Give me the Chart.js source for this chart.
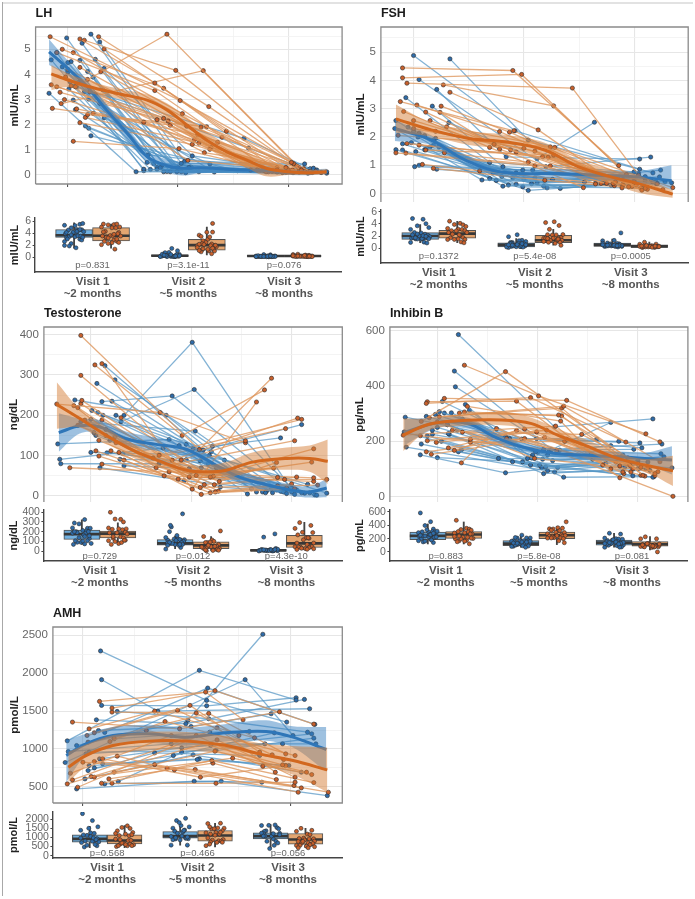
<!DOCTYPE html>
<html>
<head>
<meta charset="utf-8">
<title>Hormones by visit</title>
<script src="https://cdn.jsdelivr.net/npm/chart.js@4"></script>
<style>
  html, body { margin: 0; background: #fff; }
  body { position: relative; width: 695px; height: 899px; overflow: hidden; }
  canvas { position: absolute; }
  .edge { position: absolute; }
</style>
</head>
<body>
<div class="edge" style="left:2px;top:2px;width:691px;height:2px;background:#e2e2e2"></div>
<div class="edge" style="left:2px;top:2px;width:1px;height:894px;background:#a8a8a8"></div>
<script>
// each row: visit1 x, visit1 y, visit2 x, visit2 y, visit3 x, visit3 y
const lhBlue = [
  [.83,3.25,1.62,.13,2.86,.15],[.85,4.58,1.69,.23,2.9,.12],[.9,4.87,1.69,.17,2.95,.1],
  [.99,5.45,1.84,.29,2.88,.2],[1.21,5.6,2.03,.46,3.06,.4],[1.29,5.29,2.06,.54,3.15,.44],
  [1.13,5.24,1.99,.13,3.0,.16],[1.0,4.47,1.73,.8,3.02,.18],[1.03,4.51,1.81,.23,2.98,.1],
  [1.11,4.56,1.87,.13,3.1,.12],[1.18,4.12,1.93,.13,3.12,.2],[1.33,4.24,2.13,.76,3.2,.1],
  [1.23,3.89,2.03,.13,3.18,.07],[1.02,3.71,1.81,.3,2.92,.14],[1.01,3.42,1.75,.22,3.04,.1],
  [1.05,2.98,1.9,.14,3.08,.15],[1.19,3.02,2.07,.09,3.26,.2],[1.32,3.38,2.19,.13,3.23,.27],
  [1.29,2.85,2.33,.12,3.35,.13],[1.33,2.27,2.29,.44,3.35,.07],[1.16,1.95,2.1,.3,3.22,.12],
  [1.06,3.54,2.6,1.46,3.2,.25],[1.08,3.5,2.64,1.07,3.18,.2],[1.19,1.86,2.12,.3,3.14,.15],
  [1.21,1.56,2.54,.17,3.3,.1],[1.0,4.1,1.78,.45,2.96,.15],[.95,4.3,1.72,.5,3.0,.12],
  [1.1,3.7,1.95,.2,3.05,.1],[1.25,4.6,2.0,.3,3.1,.14],[1.15,3.3,2.0,.25,3.16,.2],
  [1.07,2.6,1.85,.35,3.02,.12]
];
const lhOrange = [
  [.84,5.5,2.02,2.96,3.03,.5],[1.11,5.41,1.79,3.66,2.98,.3],[1.15,5.36,1.98,4.16,3.05,.45],
  [1.28,5.5,2.28,2.72,3.12,.2],[1.33,5.01,2.44,1.74,3.2,.15],[.95,5.0,1.87,3.45,2.9,.2],
  [.9,4.87,1.79,3.36,2.85,.15],[1.05,4.87,2.04,2.44,3.0,.2],[1.11,4.28,2.08,1.94,2.8,.13],
  [1.3,4.11,2.21,1.91,3.15,.14],[.85,3.59,1.81,2.2,2.72,.2],[.9,3.51,1.87,2.25,2.66,.2],
  [1.07,3.51,1.9,5.6,3.08,.35],[.94,2.84,2.23,4.15,3.1,.3],[.93,3.29,1.91,2.15,2.75,.2],
  [.86,2.65,1.93,1.98,2.82,.13],[1.08,2.63,1.69,2.1,2.78,.18],[1.18,2.4,2.26,1.92,3.18,.12],
  [1.23,2.45,2.18,1.6,3.22,.1],[1.16,2.29,2.19,1.27,3.0,.13],[1.11,2.08,2.13,1.22,2.95,.1],
  [1.05,1.34,2.01,1.05,2.88,.15],[.98,3.9,2.29,1.02,3.1,.12],[1.2,3.3,2.24,.89,3.25,.15],
  [1.03,3.55,2.09,.58,3.3,.1],[1.0,4.2,2.36,1.3,3.04,.2],[1.18,3.8,2.3,1.1,3.1,.18],
  [1.25,3.2,2.4,1.5,3.14,.25],[.97,3.0,2.15,1.4,2.9,.3]
];
const fshBlue = [
  [1.0,4.88,1.92,2.22,3.05,.86],[1.33,4.76,2.04,1.89,3.17,.73],[1.21,3.68,1.84,1.3,3.05,1.22],
  [1.05,4.03,2.2,.95,3.15,1.29],[.93,3.39,1.69,1.1,3.0,.77],[1.17,3.09,1.81,.95,3.04,.71],
  [1.32,2.51,2.12,1.23,2.64,2.52],[.83,2.3,1.62,.48,2.55,.41],[.84,2.58,1.69,.53,2.65,.38],
  [1.05,2.13,1.75,.46,2.73,.38],[1.04,2.0,1.81,.26,2.79,.3],[1.18,1.89,1.86,.3,2.89,.3],
  [1.23,1.65,1.93,.33,2.98,.3],[.84,1.55,1.99,.24,3.08,.2],[.9,1.54,2.04,.11,3.17,.41],
  [.9,1.76,2.07,.35,3.23,.59],[.98,1.8,2.12,.38,3.24,.83],[1.02,1.48,2.18,.26,3.34,.38],
  [1.15,1.65,2.21,.2,3.2,.35],[1.28,1.51,2.33,.18,3.1,.45],[1.01,.95,1.99,.83,2.95,.4],
  [1.05,1.0,2.08,.83,3.0,.5],[1.21,.86,1.72,.73,3.1,.6],[1.18,1.71,1.93,.73,2.85,.55],
  [1.12,1.6,2.26,.5,3.28,.42],[1.0,2.2,1.8,.6,2.9,.5],[1.1,2.05,1.9,.55,3.0,.45],
  [.95,2.35,1.75,.75,3.1,.55],[1.2,1.95,2.0,.5,3.15,.5],[1.1,1.55,2.1,.55,3.2,.4]
];
const fshOrange = [
  [.9,4.44,1.9,4.35,2.86,.99],[.9,4.09,1.98,4.21,2.93,.67],[.94,3.9,2.44,3.73,3.04,.65],
  [1.27,3.84,2.27,3.1,3.0,.41],[1.33,3.58,2.13,2.25,2.89,.2],[.88,3.25,1.91,2.22,2.83,.41],
  [1.03,3.13,1.78,2.19,2.95,.24],[1.25,3.09,1.87,2.17,3.07,.12],[1.11,2.88,1.73,1.74,2.81,.35],
  [.91,2.9,1.69,1.63,2.54,.21],[1.24,2.87,1.78,1.57,2.65,.34],[1.0,2.58,1.88,1.54,3.1,.18],
  [1.15,2.58,1.93,1.47,3.21,.35],[.86,2.06,2.24,1.65,3.26,.14],[1.3,2.36,2.28,1.63,3.35,.21],
  [.94,1.77,2.17,1.3,2.9,.3],[1.05,1.71,2.22,1.28,3.02,.3],[1.11,1.54,2.27,1.36,3.06,.2],
  [1.28,1.44,2.04,1.11,2.75,.36],[.84,1.44,2.1,.98,2.82,.28],[.93,1.43,2.24,.98,2.98,.25],
  [1.08,1.03,1.6,.8,2.7,.36],[1.18,.89,2.19,.47,3.12,.15],[1.0,2.3,2.0,1.6,2.9,.45],
  [1.2,2.2,2.1,1.5,3.0,.35]
];
const testoBlue = [
  [1.24,288,2.21,123,2.89,144],[1.14,323,2.12,114,3.1,177],[1.06,279,2.08,115,2.74,8],
  [1.11,234,1.81,248,2.95,18],[1.21,235,2.02,118,2.81,8],[.84,238,1.75,200,2.71,10],
  [1.01,212,1.95,128,2.65,10],[1.07,207,1.88,125,2.6,18],[1.33,200,2.01,381,3.03,4],
  [.67,129,1.78,140,2.56,5],[.69,91,1.72,119,2.95,6],[.7,80,1.68,80,2.75,12],
  [1.09,70,1.93,38,3.1,8],[1.33,75,1.98,68,3.13,7],[1.29,91,2.09,87,3.18,8],
  [1.0,108,2.18,101,3.16,29],[1.16,107,2.17,80,3.25,2],[1.32,105,2.28,60,3.23,3],
  [1.03,157,2.29,22,2.92,10],[1.19,138,2.33,89,3.35,7],[1.3,184,2.03,264,3.0,20],
  [.9,184,2.04,161,2.89,12],[1.12,200,2.25,70,3.05,15],[1.0,190,1.95,90,2.9,12],
  [1.15,165,2.1,70,3.0,10],[1.25,200,2.2,110,2.85,15],[1.05,150,2.0,60,2.8,18]
];
const testoOrange = [
  [.9,398,2.08,115,2.8,292],[1.04,325,1.91,150,2.73,263],[1.11,328,2.01,17,2.65,233],
  [.9,299,1.9,89,2.54,137],[.66,228,1.69,207,2.54,132],[.91,237,1.81,89,3.06,193],
  [.9,229,1.68,101,3.1,190],[.87,219,1.62,94,2.94,167],[.83,224,1.65,70,3.03,137],
  [1.3,194,2.19,47,3.22,117],[.94,188,2.22,49,3.2,84],[.87,175,2.28,36,2.85,83],
  [1.11,188,2.05,51,2.82,69],[1.24,147,1.98,47,2.86,46],[1.25,132,2.23,28,2.93,41],
  [1.08,138,2.13,28,3.05,47],[.79,70,1.78,60,3.22,45],[1.11,79,1.73,50,3.22,36],
  [1.05,112,1.87,42,3.35,41],[1.08,99,2.09,21,3.26,27],[1.28,108,2.1,4,2.86,25],
  [1.33,89,2.19,8,3.03,18],[1.2,112,2.24,10,2.95,20],[1.15,150,2.27,12,3.0,30]
];
const inhBlue = [
  [1.21,586,2.17,252,3.15,281],[1.17,454,2.14,170,2.73,268],[1.18,397,1.99,210,2.59,208],
  [1.05,344,1.84,208,2.81,200],[.68,287,1.72,210,3.02,194],[.89,290,1.68,217,3.04,176],
  [.98,297,2.06,170,3.24,190],[1.02,307,2.12,168,2.96,171],[1.07,302,2.22,168,3.23,155],
  [1.14,303,1.98,162,2.73,184],[1.28,333,1.9,138,3.34,104],[1.32,312,1.94,140,2.53,152],
  [.67,234,1.61,138,2.55,135],[.84,190,1.75,126,2.87,107],[.83,151,1.68,86,2.68,120],
  [1.0,141,1.85,126,2.95,75],[1.04,200,1.93,114,3.15,70],[1.11,228,2.02,114,3.08,101],
  [1.12,225,2.06,83,3.0,101],[1.21,162,2.04,105,2.8,140],[1.24,169,2.08,107,3.26,144],
  [.69,179,2.1,93,3.0,118],[.9,220,2.17,89,3.12,95],[.95,240,2.2,105,2.9,130],
  [1.1,260,2.26,70,3.16,72],[1.0,250,1.95,150,2.9,140],[1.1,260,2.05,135,3.0,130],
  [1.2,240,2.1,150,3.1,125],[1.25,280,2.15,130,2.85,150],[.95,225,2.0,160,2.95,120]
];
const inhOrange = [
  [1.27,475,2.01,364,3.08,227],[1.07,355,2.29,348,3.22,198],[.89,337,1.93,358,2.88,197],
  [.9,343,1.79,345,2.82,68],[.84,272,1.68,452,3.03,106],[.92,285,2.26,327,3.22,126],
  [1.02,289,2.24,320,3.05,77],[1.22,302,2.21,295,3.17,83],[1.27,306,2.24,292,3.07,74],
  [1.3,326,2.23,273,2.65,114],[.66,222,2.18,255,2.73,100],[.9,202,2.09,240,2.82,111],
  [.99,196,1.99,234,2.85,89],[1.11,176,1.87,244,2.93,89],[1.17,167,1.79,239,2.92,113],
  [1.24,122,1.59,246,3.35,1],[.94,153,2.07,214,2.86,83],[.89,162,1.87,210,3.03,77],
  [1.33,207,2.29,208,3.17,76],[1.33,196,2.27,200,2.95,100],[1.25,233,2.44,225,3.0,120],
  [.83,220,2.19,167,3.1,105],[1.0,270,1.97,138,3.2,90],[1.15,240,1.69,210,2.78,125]
];
const amhBlue = [
  [1.17,2293,2.19,1641,2.96,1355],[1.18,1914,1.72,1500,3.18,1531],[.85,1108,2.12,2037,3.05,1645],
  [.83,822,2.56,1914,3.02,1178],[1.18,1575,2.19,1570,3.05,1676],[1.13,1385,1.99,1333,3.13,1654],
  [1.15,1244,2.04,1297,2.81,1465],[1.21,1218,2.2,1804,3.23,1324],[.94,474,2.07,575,2.72,562],
  [1.21,540,2.33,575,3.35,385],[1.33,1495,2.21,1399,3.16,1222],[1.11,751,1.87,914,2.84,1214],
  [1.05,716,1.69,949,2.7,914],[1.06,782,2.1,861,2.95,782],[1.19,804,2.12,870,2.98,782],
  [1.02,606,2.06,923,3.1,694],[1.3,1134,2.22,1222,2.6,1231],[.94,1046,2.01,1377,2.73,2513],
  [1.03,936,2.23,1046,2.92,1068],[1.34,570,1.95,958,2.75,1068],[1.06,958,2.28,980,3.22,1143],
  [.86,967,1.85,1068,3.24,1068],[1.16,870,1.95,1015,3.2,1200]
];
const amhOrange = [
  [.9,1355,1.93,1266,2.89,1491],[1.16,1628,2.18,1751,2.54,1385],[1.28,1540,2.27,1769,3.22,1328],
  [1.28,1487,2.09,1474,2.5,1178],[1.06,1266,1.69,1500,2.65,1148],[1.11,1214,2.03,1575,2.7,958],
  [1.04,1178,1.91,1509,2.82,923],[1.05,1090,2.21,1469,2.95,936],[1.26,1099,1.79,1363,3.04,914],
  [1.3,1143,1.61,1244,2.93,861],[.88,680,1.85,1178,2.92,791],[.9,592,2.09,1178,2.73,773],
  [.95,496,2.29,1280,2.85,694],[.85,540,2.29,1121,3.04,628],[1.11,628,2.27,971,3.15,694],
  [1.08,637,2.44,879,3.2,663],[1.18,548,2.24,848,3.22,557],[1.25,606,2.25,813,2.86,597],
  [1.28,548,2.28,548,3.04,562],[1.3,694,1.69,795,3.03,518],[1.33,905,1.81,747,3.1,487],
  [1.0,826,1.88,725,3.07,430],[1.11,835,2.08,729,3.36,430],[1.19,870,2.13,628,2.95,780]
];

// loess fits, x then fit / lower / upper
const lhBlueFitX = [.83,1,1.17,1.35,1.54,1.72,1.9,2.05,2.2,2.5,2.8,3.1,3.35];
const lhBlueFit = [4.9,4.24,3.54,2.59,1.66,.73,.37,.27,.29,.22,.17,.09,.13];
const lhBlueLo = [4.38,3.95,3.3,2.35,1.4,.5,.12,-.02,.08,.1,.05,-.01,.03];
const lhBlueHi = [5.4,4.55,3.78,2.83,1.9,.97,.62,.52,.48,.36,.28,.2,.25];
const lhOrangeFitX = [.85,1,1.17,1.44,1.72,1.9,2.08,2.26,2.44,2.62,2.8,3,3.17,3.35];
const lhOrangeFit = [4.02,3.78,3.54,3.25,2.98,2.59,1.99,1.39,.93,.6,.27,.13,.09,.13];
const lhOrangeLo = [3.38,3.5,3.28,3.05,2.7,2.3,1.7,1.1,.62,.3,-.05,0,0,.03];
const lhOrangeHi = [4.38,4.05,3.78,3.45,3.2,2.85,2.3,1.72,1.25,.92,.55,.3,.2,.23];

const fshBlueFitX = [.83,1.16,1.44,1.71,1.95,2.31,2.67,3.04,3.34];
const fshBlueFit = [2.3,1.89,1.24,.83,.71,.71,.65,.59,.45];
const fshBlueLo = [1.86,1.72,1.08,.68,.56,.56,.5,.38,.14];
const fshBlueHi = [2.6,2.06,1.4,.98,.86,.86,.8,.8,1.0];
const fshOrangeFitX = [.84,1.16,1.5,1.83,2.19,2.49,2.79,3.04,3.35];
const fshOrangeFit = [2.64,2.25,1.95,1.83,1.54,.95,.59,.35,-.02];
const fshOrangeLo = [2.15,2.02,1.72,1.58,1.28,.72,.35,.03,-.15];
const fshOrangeHi = [3.15,2.5,2.2,2.08,1.8,1.2,.85,.65,.12];

const testoBlueFitX = [.68,.89,1.09,1.35,1.65,1.95,2.22,2.48,2.75,3.01,3.18,3.35];
const testoBlueFit = [157,174,171,142,128,116,80,47,28,14,10,20];
const testoBlueLo = [110,155,155,125,112,100,65,32,14,0,-4,-3];
const testoBlueHi = [205,192,188,160,145,132,95,62,42,28,24,42];
const testoOrangeFitX = [.66,.89,1.15,1.42,1.68,1.95,2.15,2.35,2.61,2.95,3.18,3.36];
const testoOrangeFit = [227,192,151,113,87,64,60,64,84,93,93,86];
const testoOrangeLo = [167,170,132,95,70,48,44,45,60,65,60,30];
const testoOrangeHi = [282,215,170,130,105,80,76,84,108,120,125,140];

const inhBlueFitX = [.67,1,1.31,1.57,1.84,2.14,2.47,2.8,3.07,3.34];
const inhBlueFit = [232,267,264,216,180,158,150,144,138,132];
const inhBlueLo = [185,248,245,200,165,143,134,128,118,80];
const inhBlueHi = [280,285,285,232,195,173,165,160,158,182];
const inhOrangeFitX = [.66,.91,1.21,1.64,1.94,2.2,2.47,2.8,3.07,3.35];
const inhOrangeFit = [222,261,274,277,264,222,186,138,114,93];
const inhOrangeLo = [165,238,255,258,240,200,165,118,92,38];
const inhOrangeHi = [282,282,295,305,285,245,208,158,136,148];

const amhBlueFitX = [.84,1.03,1.29,1.64,1.99,2.38,2.76,3.02,3.34];
const amhBlueFit = [914,1068,1178,1200,1156,1214,1231,1156,993];
const amhBlueLo = [560,910,1050,1080,1040,1100,1110,1020,700];
const amhBlueHi = [1110,1200,1290,1320,1280,1330,1380,1300,1290];
const amhOrangeFitX = [.86,1.03,1.29,1.64,1.99,2.38,2.7,3.02,3.35];
const amhOrangeFit = [760,914,1046,1104,1104,1046,936,848,725];
const amhOrangeLo = [560,770,920,985,985,925,800,660,430];
const amhOrangeHi = [960,1060,1180,1225,1225,1170,1075,1040,1020];

// box stats per visit: whisker low, q1, median, q3, whisker high
const lhBlueBox = [[1.5,3.3,3.65,4.6,5.7],[.1,.15,.25,.4,.8],[.1,.15,.2,.3,.5]];
const lhOrangeBox = [[1.5,2.7,3.55,4.9,5.5],[.4,1.15,2.0,2.95,5.0],[.1,.12,.2,.28,.5]];
const fshBlueBox = [[.9,1.45,2.0,2.55,3.9],[.1,.2,.55,.9,1.6],[.1,.3,.55,.85,1.5]];
const fshOrangeBox = [[.9,1.65,2.4,2.95,4.4],[.5,.9,1.3,2.1,3.1],[.1,.15,.3,.55,1.0]];
const testoBlueBox = [[70,120,175,215,320],[25,62,80,120,155],[2,3,9,18,30]];
const testoOrangeBox = [[65,137,180,205,290],[8,27,60,95,150],[15,38,80,163,295]];
const inhBlueBox = [[120,185,242,300,420],[70,95,125,170,250],[70,100,140,180,280]];
const inhOrangeBox = [[120,205,262,305,450],[110,200,250,300,380],[30,85,115,155,230]];
const amhBlueBox = [[430,735,915,1135,1600],[570,955,1065,1320,1620],[390,915,1065,1250,1700]];
const amhOrangeBox = [[430,640,825,1135,1640],[480,790,1100,1375,1770],[430,625,880,1210,1490]];

const lhP = ["p=0.831", "p=3.1e-11", "p=0.076"];
const fshP = ["p=0.1372", "p=5.4e-08", "p=0.0005"];
const testoP = ["p=0.729", "p=0.012", "p=4.3e-10"];
const inhP = ["p=0.883", "p=5.8e-08", "p=0.081"];
const amhP = ["p=0.568", "p=0.466", "p=0.056"];

const visitLabels = [["Visit 1", "~2 months"], ["Visit 2", "~5 months"], ["Visit 3", "~8 months"]];

// sideways spread of the dots in the small box panels
const spreadV1 = [-.08,.03,-.03,.06,.09,-.1,.01,.05,-.06,.08,-.01,.1,-.09,.03,-.05,.06,-.07,.01,.08,-.03,-.1,.04,.07,-.05,.02];
const spreadV2 = [.01,-.08,.06,-.04,.1,-.06,.03,-.01,.08,-.1,.05,-.05,.06,.0,-.08,.09,-.03,.04,-.1,.07,-.05,.02,.08,-.06,.05];
const spreadV3 = [-.05,.07,-.1,.02,.05,-.02,.09,-.07,.04,-.01,.1,-.08,.03,.06,-.04,.08,-.1,.05,-.06,.01,.1,-.08,.03,-.03,.06];
const spreads = [spreadV1, spreadV2, spreadV3];

const BLUE_LINE = "rgba(84,150,197,0.72)";
const ORANGE_LINE = "rgba(222,150,92,0.78)";
const BLUE_DOT = "#2f6ca9";
const ORANGE_DOT = "#c8602c";
const BLUE_BAND = "rgba(52,126,190,0.48)";
const ORANGE_BAND = "rgba(214,128,58,0.5)";
const BLUE_FIT = "#2f76b8";
const ORANGE_FIT = "#d2681f";
const FONT = "'Liberation Sans', Arial, sans-serif";

function subjectSets(rows, line, dot, order) {
  return rows.map(r => ({
    type: "line",
    data: [{ x: r[0], y: r[1] }, { x: r[2], y: r[3] }, { x: r[4], y: r[5] }],
    borderColor: line, borderWidth: 1.3, tension: 0, fill: false,
    pointRadius: 2.1, pointBackgroundColor: dot, pointBorderColor: "#2b2b2b", pointBorderWidth: 0.6,
    order
  }));
}

function fitSets(xs, fit, lo, hi, lineColor, band, order) {
  const pts = ys => ys.map((y, i) => ({ x: xs[i], y }));
  const curve = { type: "line", pointRadius: 0, tension: 0.35 };
  return [
    { ...curve, data: pts(hi), borderWidth: 0, backgroundColor: band, fill: "+1", order: order + 1 },
    { ...curve, data: pts(lo), borderWidth: 0, fill: false, order: order + 1 },
    { ...curve, data: pts(fit), borderColor: lineColor, borderWidth: 3, fill: false, order }
  ];
}

function boxSets(rows, stats, off, fillColor, dot, thick, order) {
  const at = i => i + 1 + off;
  return [
    { type: "bar", grouped: false, barThickness: 1.2, backgroundColor: "#444", order: order + 3,
      data: stats.map((s, i) => ({ x: at(i), y: [s[0], s[4]] })) },
    { type: "bar", grouped: false, barThickness: thick, backgroundColor: fillColor, borderColor: "#555",
      borderWidth: 1, borderSkipped: false, order: order + 2,
      data: stats.map((s, i) => ({ x: at(i), y: [s[1], s[3]] })) },
    { type: "scatter", pointStyle: "line", pointRadius: thick / 2, pointBorderColor: "#383838",
      pointBorderWidth: 2.6, order: order + 1,
      data: stats.map((s, i) => ({ x: at(i), y: s[2] })) },
    { type: "scatter", pointRadius: 2, pointBackgroundColor: dot, pointBorderColor: "#2b2b2b",
      pointBorderWidth: 0.6, order,
      data: [0, 1, 2].flatMap(v => rows.map((r, i) => ({ x: at(v) + spreads[v][i % 25], y: r[2 * v + 1] }))) }
  ];
}

function addCanvas(left, top, width, height) {
  const c = document.createElement("canvas");
  c.width = width; c.height = height;
  c.style.left = left + "px"; c.style.top = top + "px";
  c.style.width = width + "px"; c.style.height = height + "px";
  document.body.appendChild(c);
  return c;
}

function mainPanel(o) {
  const left = o.titleX - 6.6, topPad = 24, xh = 10;
  const width = Math.ceil(o.R + 3 - left), height = Math.ceil(o.B - o.T + topPad + xh);
  const frame = {
    id: "frame",
    afterDatasetsDraw(chart) {
      const a = chart.chartArea, ctx = chart.ctx;
      ctx.save();
      ctx.strokeStyle = "#8a8a8a"; ctx.lineWidth = 1.3;
      ctx.beginPath();
      ctx.moveTo(a.left, a.bottom); ctx.lineTo(a.left, a.top); ctx.lineTo(a.right, a.top); ctx.lineTo(a.right, a.bottom);
      if (o.closed) ctx.lineTo(a.left, a.bottom);
      ctx.stroke();
      ctx.fillStyle = "#1c1c1c"; ctx.font = "bold 12.5px " + FONT;
      ctx.textAlign = "left"; ctx.textBaseline = "middle";
      ctx.fillText(o.title, a.left, a.top - 13.5);
      ctx.restore();
    }
  };
  const isMajorX = v => Number.isInteger(v);
  return new Chart(addCanvas(left, o.T - topPad, width, height), {
    type: "scatter",
    data: { datasets: [
      ...subjectSets(o.blue, BLUE_LINE, BLUE_DOT, 8),
      ...subjectSets(o.orange, ORANGE_LINE, ORANGE_DOT, 7),
      ...fitSets(o.blueFit[0], o.blueFit[1], o.blueFit[2], o.blueFit[3], BLUE_FIT, BLUE_BAND, 3),
      ...fitSets(o.orangeFit[0], o.orangeFit[1], o.orangeFit[2], o.orangeFit[3], ORANGE_FIT, ORANGE_BAND, 1)
    ] },
    options: {
      responsive: false, animation: false, devicePixelRatio: 1,
      layout: { autoPadding: false, padding: { top: topPad, right: width - (o.R - left), left: 0, bottom: 0 } },
      plugins: { legend: { display: false }, tooltip: { enabled: false } },
      scales: {
        x: {
          type: "linear", min: o.xMin, max: o.xMax,
          afterBuildTicks: s => { s.ticks = [1, 1.5, 2, 2.5, 3].map(value => ({ value })); },
          afterFit: s => { s.height = xh; },
          ticks: { display: true, callback: () => "", autoSkip: false, padding: 0, maxRotation: 0 },
          border: { display: false },
          grid: {
            color: c => isMajorX(c.tick.value) ? "#e6e6e6" : "#f1f1f1",
            lineWidth: c => isMajorX(c.tick.value) ? 1.1 : 0.8,
            tickLength: 3, tickWidth: 1.1,
            tickColor: c => (o.closed && isMajorX(c.tick.value)) ? "#555" : "rgba(0,0,0,0)"
          }
        },
        y: {
          min: o.yMin, max: o.yMax,
          afterBuildTicks: s => {
            s.ticks = o.yTicks.concat(o.yMinor).sort((a, b) => a - b).map(value => ({ value }));
          },
          afterFit: s => { s.width = o.L - left; },
          title: { display: true, text: o.unit, color: "#222", padding: 0, font: { family: FONT, size: 11.5, weight: "bold" } },
          ticks: {
            autoSkip: false, padding: 3, color: "#666", font: { family: FONT, size: 11.5 },
            callback: v => o.yTicks.includes(v) ? String(v) : ""
          },
          border: { display: false },
          grid: {
            color: c => o.yTicks.includes(c.tick.value) ? "#e6e6e6" : "#f1f1f1",
            lineWidth: c => o.yTicks.includes(c.tick.value) ? 1.1 : 0.8,
            tickLength: 2, tickColor: "rgba(0,0,0,0)"
          }
        }
      }
    },
    plugins: [frame]
  });
}

function boxPanel(o) {
  const left = o.titleX - 6.6, topPad = 8, xh = 36;
  const width = Math.ceil(o.R + 3 - left), height = Math.ceil(o.B - o.T + topPad + xh);
  const pvals = {
    id: "pvals",
    afterDatasetsDraw(chart) {
      const ctx = chart.ctx, xs = chart.scales.x, ys = chart.scales.y;
      ctx.save();
      ctx.fillStyle = "#666"; ctx.font = "9.5px " + FONT;
      ctx.textAlign = "center"; ctx.textBaseline = "middle";
      o.p.forEach((t, i) => ctx.fillText(t, xs.getPixelForValue(i + 1), ys.getPixelForValue(o.pY)));
      ctx.restore();
    }
  };
  return new Chart(addCanvas(left, o.T - topPad, width, height), {
    type: "scatter",
    data: { datasets: [
      ...boxSets(o.blue, o.blueBox, -0.193, "rgba(100,170,222,0.9)", BLUE_DOT, o.thick, 4),
      ...boxSets(o.orange, o.orangeBox, 0.193, "rgba(226,160,104,0.95)", ORANGE_DOT, o.thick, 0)
    ] },
    options: {
      responsive: false, animation: false, devicePixelRatio: 1,
      layout: { autoPadding: false, padding: { top: topPad, right: width - (o.R - left), left: 0, bottom: 0 } },
      plugins: { legend: { display: false }, tooltip: { enabled: false } },
      scales: {
        x: {
          type: "linear", min: 0.4, max: 3.6, offset: false,
          afterBuildTicks: s => { s.ticks = [1, 2, 3].map(value => ({ value })); },
          afterFit: s => { s.height = xh; },
          ticks: {
            autoSkip: false, padding: 4, maxRotation: 0, color: "#555",
            font: { family: FONT, size: 11.5, weight: "bold", lineHeight: 1.05 },
            callback: v => visitLabels[v - 1]
          },
          border: { display: true, color: "#444", width: 1.4 },
          grid: { display: true, drawOnChartArea: false, tickLength: 0, color: "rgba(0,0,0,0)" }
        },
        y: {
          min: o.yMin, max: o.yMax,
          afterBuildTicks: s => { s.ticks = o.yTicks.map(value => ({ value })); },
          afterFit: s => { s.width = o.L - left; },
          title: { display: true, text: o.unit, color: "#222", padding: 0, font: { family: FONT, size: 11, weight: "bold" } },
          ticks: { autoSkip: false, padding: 1.5, color: "#666", font: { family: FONT, size: 10.5, lineHeight: 1 }, callback: v => String(v) },
          border: { display: true, color: "#444", width: 1.4 },
          grid: { display: true, drawOnChartArea: false, tickLength: 2.5, tickColor: "#444", tickWidth: 1 }
        }
      }
    },
    plugins: [pvals]
  });
}

// LH
mainPanel({ title: "LH", unit: "mIU/mL", titleX: 14.5, L: 35.5, R: 342, T: 27, B: 184, closed: true,
  xMin: .708, xMax: 3.49, yMin: -.358, yMax: 5.887, yTicks: [0,1,2,3,4,5], yMinor: [.5,1.5,2.5,3.5,4.5,5.5],
  blue: lhBlue, orange: lhOrange,
  blueFit: [lhBlueFitX, lhBlueFit, lhBlueLo, lhBlueHi], orangeFit: [lhOrangeFitX, lhOrangeFit, lhOrangeLo, lhOrangeHi] });
boxPanel({ unit: "mIU/mL", titleX: 15, L: 35.5, R: 342, T: 218, B: 271.7, thick: 37,
  yMin: -2.45, yMax: 6.5, yTicks: [0,2,4,6], pY: -1.43, p: lhP,
  blue: lhBlue, orange: lhOrange, blueBox: lhBlueBox, orangeBox: lhOrangeBox });

// FSH
mainPanel({ title: "FSH", unit: "mIU/mL", titleX: 360.7, L: 381, R: 688.3, T: 27.3, B: 201.7, closed: false,
  xMin: .704, xMax: 3.49, yMin: -.298, yMax: 5.887, yTicks: [0,1,2,3,4,5], yMinor: [.5,1.5,2.5,3.5,4.5,5.5],
  blue: fshBlue, orange: fshOrange,
  blueFit: [fshBlueFitX, fshBlueFit, fshBlueLo, fshBlueHi], orangeFit: [fshOrangeFitX, fshOrangeFit, fshOrangeLo, fshOrangeHi] });
boxPanel({ unit: "mIU/mL", titleX: 360.5, L: 381, R: 688.3, T: 210, B: 262.3, thick: 36.8,
  yMin: -2.43, yMax: 6.28, yTicks: [0,2,4,6], pY: -1.38, p: fshP,
  blue: fshBlue, orange: fshOrange, blueBox: fshBlueBox, orangeBox: fshOrangeBox });

// Testosterone
mainPanel({ title: "Testosterone", unit: "ng/dL", titleX: 14, L: 44.3, R: 342.7, T: 327, B: 501.7, closed: false,
  xMin: .532, xMax: 3.505, yMin: -14.9, yMax: 419, yTicks: [0,100,200,300,400], yMinor: [50,150,250,350],
  blue: testoBlue, orange: testoOrange,
  blueFit: [testoBlueFitX, testoBlueFit, testoBlueLo, testoBlueHi], orangeFit: [testoOrangeFitX, testoOrangeFit, testoOrangeLo, testoOrangeHi] });
boxPanel({ unit: "ng/dL", titleX: 14, L: 44.3, R: 342.7, T: 510, B: 560.7, thick: 36,
  yMin: -99.5, yMax: 420.5, yTicks: [0,100,200,300,400], pY: -51, p: testoP,
  blue: testoBlue, orange: testoOrange, blueBox: testoBlueBox, orangeBox: testoOrangeBox });

// Inhibin B
mainPanel({ title: "Inhibin B", unit: "pg/mL", titleX: 360, L: 390.3, R: 688.3, T: 327, B: 501.7, closed: false,
  xMin: .527, xMax: 3.499, yMin: -19.6, yMax: 613.4, yTicks: [0,200,400,600], yMinor: [100,300,500],
  blue: inhBlue, orange: inhOrange,
  blueFit: [inhBlueFitX, inhBlueFit, inhBlueLo, inhBlueHi], orangeFit: [inhOrangeFitX, inhOrangeFit, inhOrangeLo, inhOrangeHi] });
boxPanel({ unit: "pg/mL", titleX: 360, L: 390.3, R: 688.3, T: 510, B: 560.7, thick: 36,
  yMin: -136, yMax: 630, yTicks: [0,200,400,600], pY: -65, p: inhP,
  blue: inhBlue, orange: inhOrange, blueBox: inhBlueBox, orangeBox: inhOrangeBox });

// AMH
mainPanel({ title: "AMH", unit: "pmol/L", titleX: 15, L: 53.3, R: 342.7, T: 626.7, B: 802.3, closed: true,
  xMin: .712, xMax: 3.494, yMin: 288, yMax: 2609, yTicks: [500,1000,1500,2000,2500], yMinor: [750,1250,1750,2250],
  blue: amhBlue, orange: amhOrange,
  blueFit: [amhBlueFitX, amhBlueFit, amhBlueLo, amhBlueHi], orangeFit: [amhOrangeFitX, amhOrangeFit, amhOrangeLo, amhOrangeHi] });
boxPanel({ unit: "pmol/L", titleX: 14, L: 53.3, R: 342.7, T: 811.7, B: 857.3, thick: 34.7,
  yMin: -127, yMax: 2383, yTicks: [0,500,1000,1500,2000], pY: 110, p: amhP,
  blue: amhBlue, orange: amhOrange, blueBox: amhBlueBox, orangeBox: amhOrangeBox });
</script>
</body>
</html>
